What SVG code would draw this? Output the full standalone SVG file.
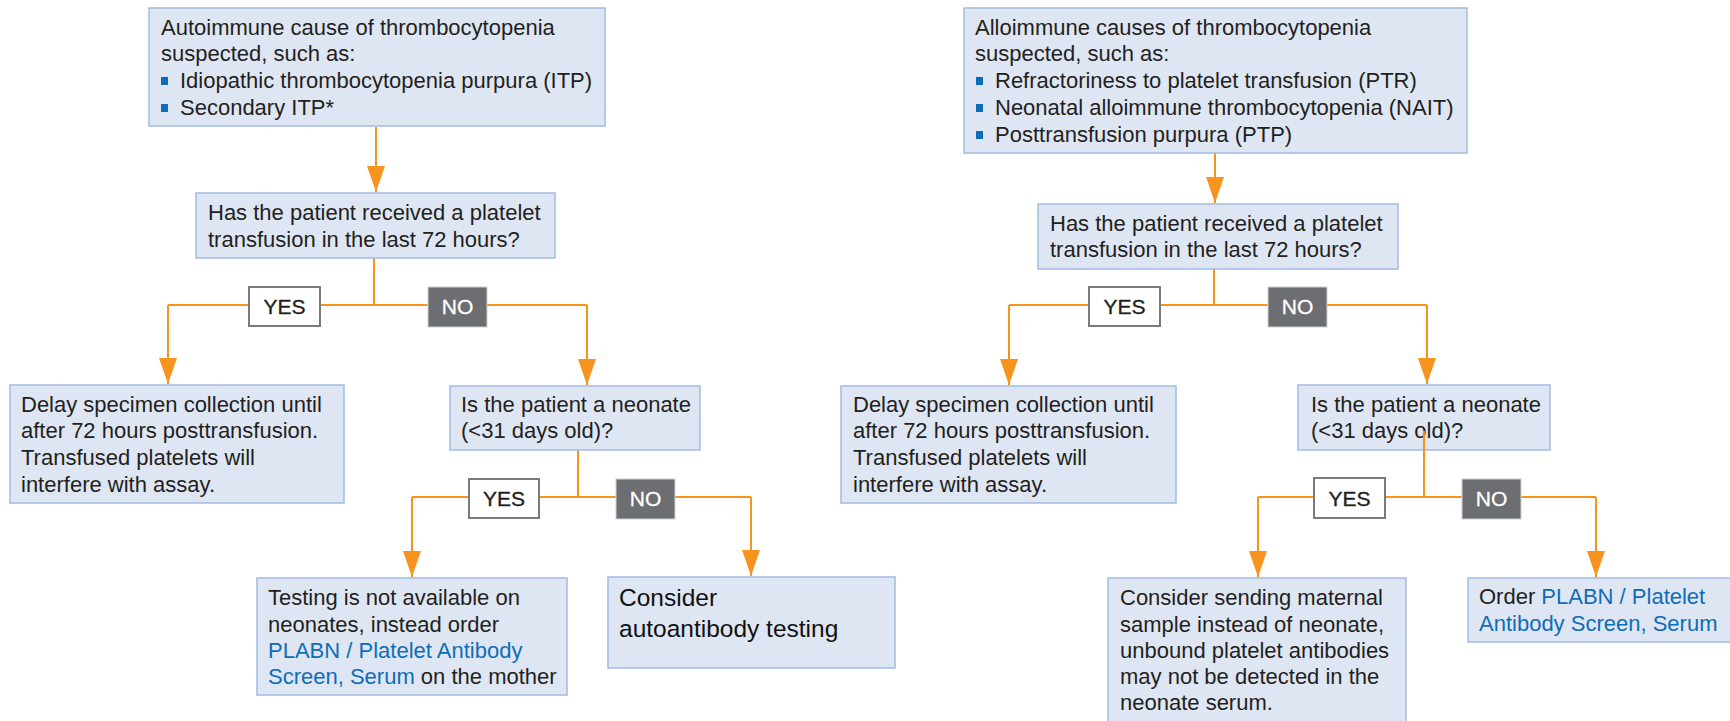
<svg xmlns="http://www.w3.org/2000/svg" width="1730" height="721" viewBox="0 0 1730 721">
<style>
.box{fill:#dfe6f3;stroke:#a2bbe2;stroke-width:1.5}
.t{font-family:"Liberation Sans",Arial,sans-serif;font-size:22px;fill:#231f20}
.big{font-size:24.5px;fill:#111}
.lnk{fill:#0e6db7}
.yes{fill:#fff;stroke:#7a7a7a;stroke-width:2}
.no{fill:#6d6e71;stroke:#d0d0d0;stroke-width:1}
.yt{font-family:"Liberation Sans",Arial,sans-serif;font-size:21px;fill:#231f20;stroke:#231f20;stroke-width:0.35;text-anchor:middle}
.nt{font-family:"Liberation Sans",Arial,sans-serif;font-size:21px;fill:#fff;stroke:#fff;stroke-width:0.3;text-anchor:middle}
.ln{fill:none;stroke:#f7941d;stroke-width:2}
.bul{fill:#0e6db7}
</style>
<defs>
<marker id="ah" viewBox="0 0 26 18" refX="26" refY="9" markerWidth="26" markerHeight="18" markerUnits="userSpaceOnUse" orient="auto">
<path d="M0,0 L26,9 L0,18 z" fill="#f7941d"/>
</marker>
</defs>

<g id="connectors">
<path class="ln" d="M376,127 V192" marker-end="url(#ah)"/>
<path class="ln" d="M374,258 V305"/>
<path class="ln" d="M168,305 H587"/>
<path class="ln" d="M168,305 V384" marker-end="url(#ah)"/>
<path class="ln" d="M587,305 V385" marker-end="url(#ah)"/>
<path class="ln" d="M578,450 V497"/>
<path class="ln" d="M412,497 H751"/>
<path class="ln" d="M412,497 V577" marker-end="url(#ah)"/>
<path class="ln" d="M751,497 V576" marker-end="url(#ah)"/>

<path class="ln" d="M1215,153 V203" marker-end="url(#ah)"/>
<path class="ln" d="M1214,269 V305"/>
<path class="ln" d="M1009,305 H1427"/>
<path class="ln" d="M1009,305 V385" marker-end="url(#ah)"/>
<path class="ln" d="M1427,305 V384" marker-end="url(#ah)"/>
<path class="ln" d="M1258,497 H1596"/>
<path class="ln" d="M1258,497 V577" marker-end="url(#ah)"/>
<path class="ln" d="M1596,497 V577" marker-end="url(#ah)"/>
</g>

<g id="autoimmune">
<rect class="box" x="149" y="8" width="456" height="118"/>
<text class="t" x="161" y="35">Autoimmune cause of thrombocytopenia</text>
<text class="t" x="161" y="61">suspected, such as:</text>
<rect class="bul" x="161" y="77" width="7" height="8"/>
<text class="t" x="180" y="88">Idiopathic thrombocytopenia purpura (ITP)</text>
<rect class="bul" x="161" y="104" width="7" height="8"/>
<text class="t" x="180" y="115">Secondary ITP*</text>
</g>

<g id="q1">
<rect class="box" x="196" y="193" width="359" height="65"/>
<text class="t" x="208" y="220">Has the patient received a platelet</text>
<text class="t" x="208" y="247">transfusion in the last 72 hours?</text>
</g>

<g id="yes1"><rect class="yes" x="249" y="287" width="71" height="39"/><text class="yt" x="284.5" y="314">YES</text></g>
<g id="no1"><rect class="no" x="428" y="287" width="59" height="40"/><text class="nt" x="457.5" y="314">NO</text></g>

<g id="delay1">
<rect class="box" x="10" y="385" width="334" height="118"/>
<text class="t" x="21" y="412">Delay specimen collection until</text>
<text class="t" x="21" y="438">after 72 hours posttransfusion.</text>
<text class="t" x="21" y="465">Transfused platelets will</text>
<text class="t" x="21" y="492">interfere with assay.</text>
</g>

<g id="neonate1">
<rect class="box" x="450" y="386" width="250" height="64"/>
<text class="t" x="461" y="412">Is the patient a neonate</text>
<text class="t" x="461" y="438">(&lt;31 days old)?</text>
</g>

<g id="yes2"><rect class="yes" x="469" y="479" width="70" height="39"/><text class="yt" x="504" y="506">YES</text></g>
<g id="no2"><rect class="no" x="616" y="479" width="59" height="40"/><text class="nt" x="645.5" y="506">NO</text></g>

<g id="testing">
<rect class="box" x="257" y="578" width="310" height="117"/>
<text class="t" x="268" y="605">Testing is not available on</text>
<text class="t" x="268" y="632">neonates, instead order</text>
<text class="t lnk" x="268" y="658">PLABN / Platelet Antibody</text>
<text class="t" x="268" y="684"><tspan class="lnk">Screen, Serum</tspan> on the mother</text>
</g>

<g id="consider">
<rect class="box" x="608" y="577" width="287" height="91"/>
<text class="t big" x="619" y="606">Consider</text>
<text class="t big" x="619" y="637">autoantibody testing</text>
</g>

<g id="alloimmune">
<rect class="box" x="964" y="8" width="503" height="145"/>
<text class="t" x="975" y="35">Alloimmune causes of thrombocytopenia</text>
<text class="t" x="975" y="61">suspected, such as:</text>
<rect class="bul" x="976" y="77" width="7" height="8"/>
<text class="t" x="995" y="88">Refractoriness to platelet transfusion (PTR)</text>
<rect class="bul" x="976" y="104" width="7" height="8"/>
<text class="t" x="995" y="115">Neonatal alloimmune thrombocytopenia (NAIT)</text>
<rect class="bul" x="976" y="131" width="7" height="8"/>
<text class="t" x="995" y="142">Posttransfusion purpura (PTP)</text>
</g>

<g id="q2">
<rect class="box" x="1038" y="204" width="360" height="65"/>
<text class="t" x="1050" y="231">Has the patient received a platelet</text>
<text class="t" x="1050" y="257">transfusion in the last 72 hours?</text>
</g>

<g id="yes3"><rect class="yes" x="1089" y="287" width="71" height="39"/><text class="yt" x="1124.5" y="314">YES</text></g>
<g id="no3"><rect class="no" x="1268" y="287" width="59" height="40"/><text class="nt" x="1297.5" y="314">NO</text></g>

<g id="delay2">
<rect class="box" x="841" y="386" width="335" height="117"/>
<text class="t" x="853" y="412">Delay specimen collection until</text>
<text class="t" x="853" y="438">after 72 hours posttransfusion.</text>
<text class="t" x="853" y="465">Transfused platelets will</text>
<text class="t" x="853" y="492">interfere with assay.</text>
</g>

<g id="neonate2">
<rect class="box" x="1298" y="385" width="252" height="65"/>
<text class="t" x="1311" y="412">Is the patient a neonate</text>
<text class="t" x="1311" y="438">(&lt;31 days old)?</text>
<path class="ln" d="M1424,431 V497"/>
</g>

<g id="yes4"><rect class="yes" x="1314" y="478" width="71" height="40"/><text class="yt" x="1349.5" y="506">YES</text></g>
<g id="no4"><rect class="no" x="1462" y="479" width="59" height="40"/><text class="nt" x="1491.5" y="506">NO</text></g>

<g id="maternal">
<rect class="box" x="1108" y="578" width="298" height="160"/>
<text class="t" x="1120" y="605">Consider sending maternal</text>
<text class="t" x="1120" y="632">sample instead of neonate,</text>
<text class="t" x="1120" y="658">unbound platelet antibodies</text>
<text class="t" x="1120" y="684">may not be detected in the</text>
<text class="t" x="1120" y="710">neonate serum.</text>
</g>

<g id="order">
<rect class="box" x="1468" y="578" width="270" height="64"/>
<text class="t" x="1479" y="604">Order <tspan class="lnk">PLABN / Platelet</tspan></text>
<text class="t lnk" x="1479" y="631">Antibody Screen, Serum</text>
</g>
</svg>
